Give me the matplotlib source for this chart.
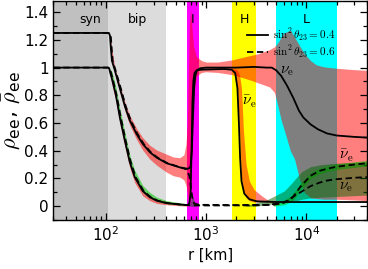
import numpy as np
import matplotlib
matplotlib.use("Agg")
import matplotlib.pyplot as plt
from matplotlib.ticker import FuncFormatter, MultipleLocator, LogLocator

plt.rcParams['font.family'] = ['DejaVu Sans']
plt.rcParams['mathtext.fontset'] = 'cm'

# ---------------- data ----------------
region_names = ["syn", "bip", "I", "H", "L"]
region_lo = [30, 105, 650, 1800, 5000]
region_hi = [105, 400, 840, 3160, 20000]
region_colors = ["#c0c0c0", "#dcdcdc", "#ff00ff", "#ffff00", "#00ffff"]
region_label_r = [70, 205, 735, 2380, 10000]

# solid curves, sin^2 theta23 = 0.4
nu_solid_r = [30, 105, 108, 110, 112, 115, 123, 138, 155, 173, 203, 233, 274, 322, 404, 545, 654,
              680, 700, 720, 740, 760, 780, 810, 870, 1000, 2000, 3000, 4000, 4500, 5000, 5600,
              6400, 7400, 8400, 9300, 11000, 13000, 16000, 20000, 30000, 40000]
nu_solid_v = [1.25, 1.25, 1.245, 1.23, 1.15, 1.05, 0.98, 0.85, 0.72, 0.62, 0.52, 0.45, 0.39, 0.35,
              0.31, 0.28, 0.27, 0.275, 0.29, 0.40, 0.65, 0.86, 0.94, 0.98, 0.995, 1.0, 1.0, 1.005,
              1.0, 1.0, 0.98, 0.94, 0.87, 0.78, 0.69, 0.64, 0.59, 0.555, 0.525, 0.51, 0.50, 0.495]

nub_solid_r = [30, 104, 108, 110, 115, 126, 138, 155, 173, 194, 233, 274, 322, 404, 545, 654,
               680, 700, 715, 730, 745, 765, 800, 900, 1500, 1800, 1950, 2050, 2120, 2180, 2250, 2400,
               2700, 3200, 5000, 10000, 40000]
nub_solid_v = [1.0, 1.0, 0.995, 0.97, 0.92, 0.80, 0.64, 0.47, 0.32, 0.21, 0.11, 0.065, 0.04, 0.022,
               0.012, 0.008, 0.02, 0.1, 0.4, 0.75, 0.9, 0.96, 0.98, 0.985, 0.99, 0.985, 0.96,
               0.85, 0.6, 0.35, 0.18, 0.09, 0.05, 0.035, 0.03, 0.03, 0.03]

# dashed curves, sin^2 theta23 = 0.6
nu_dash_r = [30, 107, 110, 112, 114, 117, 125, 141, 158, 177, 207, 238, 280, 328, 412, 555, 640,
             680, 710, 730, 760, 850, 2000, 4000, 5500, 6500, 7400, 8700, 11000, 13500, 16000, 20000,
             30000, 40000]
nu_dash_v = [1.25, 1.25, 1.245, 1.23, 1.15, 1.05, 0.98, 0.85, 0.72, 0.62, 0.52, 0.45, 0.39, 0.35,
             0.31, 0.28, 0.265, 0.22, 0.12, 0.05, 0.02, 0.01, 0.008, 0.01, 0.02, 0.04, 0.07, 0.10,
             0.145, 0.17, 0.185, 0.195, 0.205, 0.21]

nub_dash_r = [30, 106, 110, 112, 117, 128, 141, 158, 177, 198, 238, 280, 328, 412, 555, 700, 1000,
              3000, 4700, 6000, 7000, 7400, 8700, 11000, 13500, 16000, 20000, 30000, 40000]
nub_dash_v = [1.0, 1.0, 0.995, 0.97, 0.92, 0.80, 0.64, 0.47, 0.32, 0.21, 0.11, 0.065, 0.04, 0.022,
              0.012, 0.006, 0.005, 0.006, 0.01, 0.025, 0.05, 0.07, 0.14, 0.22, 0.255, 0.27,
              0.285, 0.30, 0.31]

# red band around nu_e (0.4)
red_nu_r = [110, 115, 123, 138, 155, 173, 203, 233, 274, 322, 404, 470, 545, 600, 630, 650, 665,
            680, 700, 720, 750, 800, 900, 1000, 1300, 1800, 2500, 3300, 4300, 4800, 5200, 5600, 6000,
            6900, 7600, 8500, 9500, 11000, 12500, 15000, 20000, 30000, 40000]
red_nu_hi = [1.25, 1.13, 1.0, 0.875, 0.75, 0.655, 0.56, 0.495, 0.44, 0.405, 0.375, 0.355, 0.35,
             0.37, 0.45, 0.6, 0.95, 1.30, 1.42, 1.30, 1.15, 1.08, 1.05, 1.04, 1.04, 1.055, 1.08, 1.10,
             1.13, 1.15, 1.18, 1.22, 1.25, 1.27, 1.22, 1.16, 1.10, 1.05, 1.02, 1.005, 0.995, 0.985, 0.98]
red_nu_lo = [1.23, 1.07, 0.96, 0.825, 0.69, 0.585, 0.48, 0.405, 0.34, 0.295, 0.245, 0.22, 0.21,
             0.19, 0.15, 0.10, 0.04, 0.01, 0.05, 0.40, 0.80, 0.94, 0.965, 0.97, 0.965, 0.95, 0.92,
             0.89, 0.86, 0.82, 0.72, 0.62, 0.55, 0.40, 0.34, 0.20, 0.10, 0.06, 0.055, 0.05, 0.05,
             0.045, 0.04]

# red band around anti-nu_e (0.4)
red_nub_r = [108, 110, 115, 126, 138, 155, 173, 194, 233, 274, 322, 404, 545, 654]
red_nub_hi = [1.0, 0.975, 0.93, 0.81, 0.65, 0.48, 0.33, 0.22, 0.12, 0.075, 0.05, 0.032, 0.022, 0.018]
red_nub_lo = [0.99, 0.95, 0.88, 0.76, 0.60, 0.43, 0.28, 0.17, 0.075, 0.04, 0.02, 0.01, 0.003, 0.0]
red_nub2_r = [1800, 1950, 2050, 2150, 2250, 2350, 2500, 2700, 3000, 3500, 4000, 4800]
red_nub2_hi = [0.99, 0.99, 0.98, 0.95, 0.85, 0.55, 0.30, 0.18, 0.12, 0.08, 0.05, 0.03]
red_nub2_lo = [0.98, 0.95, 0.85, 0.55, 0.20, 0.10, 0.06, 0.04, 0.03, 0.03, 0.03, 0.03]

# bright green band (0.6, anti-nu)
grn_bip_r = [108, 110, 115, 126, 138, 155, 173, 194, 233, 274, 322, 404, 545, 654]
grn_bip_hi = [1.0, 0.99, 0.97, 0.86, 0.70, 0.53, 0.37, 0.26, 0.15, 0.10, 0.065, 0.04, 0.025, 0.015]
grn_bip_lo = [0.99, 0.96, 0.90, 0.78, 0.62, 0.45, 0.31, 0.20, 0.10, 0.06, 0.035, 0.018, 0.008, 0.005]
grn_L_r = [4700, 6000, 7000, 7400, 8700, 11000, 13500, 16000, 20000, 30000, 40000]
grn_L_hi = [0.015, 0.045, 0.075, 0.095, 0.165, 0.24, 0.275, 0.29, 0.305, 0.32, 0.33]
grn_L_lo = [0.0, 0.01, 0.03, 0.045, 0.115, 0.2, 0.235, 0.25, 0.265, 0.28, 0.29]

# dark green band (0.6, nu)
dk_I_r = [680, 710, 730, 760, 800]
dk_I_hi = [0.0, 0.05, 0.08, 0.04, 0.0]
dk_I_lo = [0.0, 0.0, 0.0, 0.0, 0.0]
dk_L_r = [2400, 3000, 4000, 5000, 6000, 7000, 8000, 9000, 11000, 14000, 20000, 40000]
dk_L_hi = [0.0, 0.02, 0.045, 0.08, 0.11, 0.16, 0.21, 0.25, 0.285, 0.30, 0.31, 0.32]
dk_L_lo = [0.0, 0.0, 0.01, 0.02, 0.03, 0.035, 0.04, 0.05, 0.06, 0.065, 0.07, 0.08]

# curve labels
lab_text = [r'$\nu_\mathrm{e}$', r'$\bar\nu_\mathrm{e}$', r'$\bar\nu_\mathrm{e}$', r'$\nu_\mathrm{e}$']
lab_r = [6330, 2690, 24900, 24500]
lab_v = [0.98, 0.75, 0.36, 0.14]

# ---------------- plot ----------------
fig = plt.figure(figsize=(3.68, 2.69), dpi=100)
ax = fig.add_axes([0.145, 0.182, 0.852, 0.814])
ax.set_xscale('log')
ax.set_xlim(30, 40000)
ax.set_ylim(-0.1, 1.48)

for lo, hi, c in zip(region_lo, region_hi, region_colors):
    ax.axvspan(lo, hi, color=c, lw=0, zorder=0)
for name, xr in zip(region_names, region_label_r):
    ax.text(xr, 1.35, name, ha='center', va='center', fontsize=9, zorder=5)

red = (1, 0, 0, 0.5)
ax.fill_between(red_nu_r, red_nu_lo, red_nu_hi, color=red, lw=0, zorder=1)
ax.fill_between(red_nub_r, red_nub_lo, red_nub_hi, color=red, lw=0, zorder=1)
ax.fill_between(red_nub2_r, red_nub2_lo, red_nub2_hi, color=red, lw=0, zorder=1)

bg = (0, 0.78, 0, 0.55)
dg = (0, 0.4, 0, 0.5)
ax.fill_between(grn_bip_r, grn_bip_lo, grn_bip_hi, color=bg, lw=0, zorder=2)
ax.fill_between(grn_L_r, grn_L_lo, grn_L_hi, color=bg, lw=0, zorder=2)
ax.fill_between(dk_I_r, dk_I_lo, dk_I_hi, color=dg, lw=0, zorder=2)
ax.fill_between(dk_L_r, dk_L_lo, dk_L_hi, color=dg, lw=0, zorder=2)

lw = 1.3
ax.plot(nu_solid_r, nu_solid_v, color='k', lw=lw, zorder=3, label=r'$\sin^2\theta_{23} = 0.4$')
ax.plot(nub_solid_r, nub_solid_v, color='k', lw=lw, zorder=3)
ax.plot(nu_dash_r, nu_dash_v, color='k', lw=lw, ls=(0, (3.5, 2)), zorder=3,
        label=r'$\sin^2\theta_{23} = 0.6$')
ax.plot(nub_dash_r, nub_dash_v, color='k', lw=lw, ls=(0, (3.5, 2)), zorder=3)

for t, xr, yv in zip(lab_text, lab_r, lab_v):
    ax.text(xr, yv, t, ha='center', va='center', fontsize=11, zorder=5)

leg = ax.legend(loc='upper left', bbox_to_anchor=((247 - 53) / 314, 0.885), frameon=False,
                borderpad=0, borderaxespad=0, handlelength=1.9, handletextpad=0.4,
                labelspacing=0.05, fontsize=8)

ax.yaxis.set_major_locator(MultipleLocator(0.2))
ax.yaxis.set_minor_locator(MultipleLocator(0.1))
ax.yaxis.set_major_formatter(FuncFormatter(lambda v, _: '%g' % round(v, 1)))
ax.xaxis.set_major_locator(LogLocator(base=10))
ax.xaxis.set_minor_locator(LogLocator(base=10, subs=np.arange(2, 10)))
ax.xaxis.set_major_formatter(FuncFormatter(lambda v, _: r'$\mathregular{10^{%d}}$' % round(np.log10(v))))
ax.tick_params(which='both', direction='in', top=True, right=True, labelsize=11, width=0.9)
ax.tick_params(which='major', length=5)
ax.tick_params(which='minor', length=3)
for s in ax.spines.values():
    s.set_linewidth(1.0)
    s.set_zorder(6)

ax.set_xlabel('r [km]', fontsize=10.5, labelpad=3)
ax.set_ylabel(r'$\rho_{\mathregular{ee}}$, $\bar\rho_{\mathregular{ee}}$', fontsize=16, labelpad=1)

fig.savefig('out.png', dpi=100)
